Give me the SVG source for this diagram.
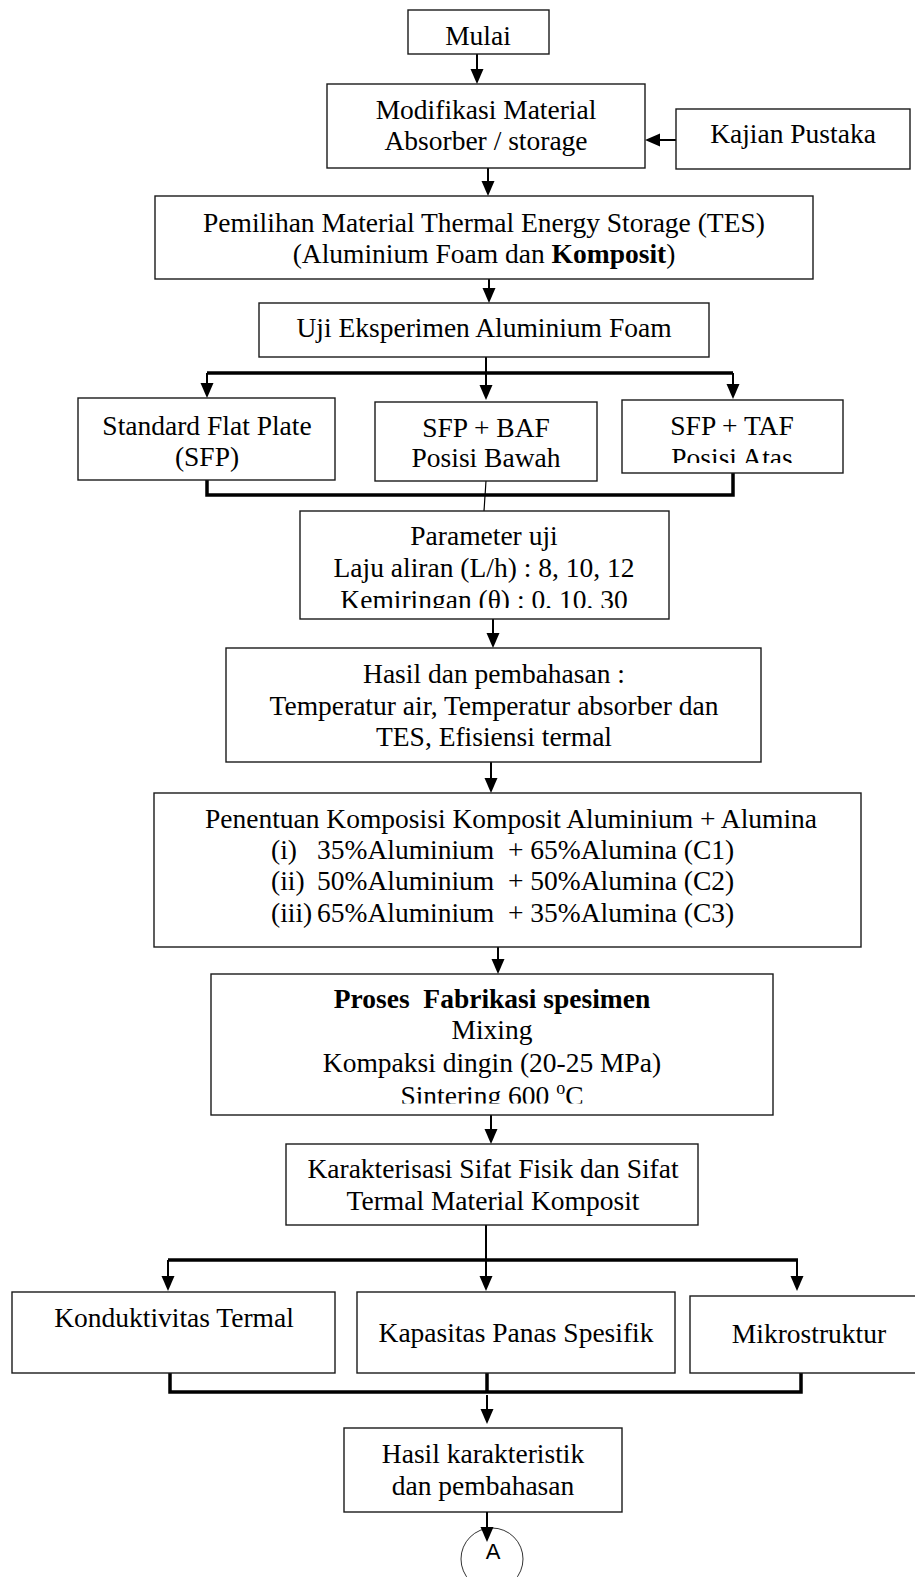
<svg xmlns="http://www.w3.org/2000/svg" width="915" height="1577" viewBox="0 0 915 1577">
<style>
.box{fill:#fff;stroke:#1a1a1a;stroke-width:1.4}
.t{font-family:"Liberation Serif","Times New Roman",serif;font-size:27.5px;fill:#000;text-anchor:middle;white-space:pre}
.tl{font-family:"Liberation Serif","Times New Roman",serif;font-size:27.5px;fill:#000;text-anchor:start;white-space:pre}
.b{font-weight:bold}
.ar{fill:none;stroke:#000;stroke-width:2;marker-end:url(#ah)}
.br{fill:none;stroke:#000;stroke-width:3.5}
.thin{fill:none;stroke:#000;stroke-width:1.2}
.circ{fill:#fff;stroke:#333;stroke-width:1}
.a{font-family:"Liberation Sans",Arial,sans-serif;font-size:22px;text-anchor:middle;fill:#000}
</style>
<defs>
<marker id="ah" markerUnits="userSpaceOnUse" markerWidth="16" markerHeight="14" refX="9" refY="6.5" orient="auto">
<path d="M0,0 L15,6.5 L0,13 Z" fill="#000"/>
</marker>
<clipPath id="cTAF"><rect x="622" y="400" width="221" height="63"/></clipPath>
<clipPath id="cPar"><rect x="300" y="511" width="369" height="97"/></clipPath>
<clipPath id="cPro"><rect x="211" y="974" width="562" height="129.5"/></clipPath>
</defs>
<rect width="915" height="1577" fill="#fff"/>

<g id="connectors">
<path class="ar" d="M477,54 V78"/>
<path class="ar" d="M676,140 H651"/>
<path class="ar" d="M488,168 V190"/>
<path class="ar" d="M489,279 V297"/>
<path class="br" d="M207,373 H733"/>
<path class="ar" d="M486,357 V394"/>
<path class="ar" d="M207,373 V392"/>
<path class="ar" d="M733,373 V393"/>
<path class="br" d="M207,480 V495 H733 V473"/>
<path class="thin" d="M486,481 L484,511"/>
<path class="ar" d="M493,619 V642"/>
<path class="ar" d="M491,762 V787"/>
<path class="ar" d="M498,947 V968"/>
<path class="ar" d="M491,1115 V1138"/>
<path class="br" d="M168,1260 H798"/>
<path class="ar" d="M486,1225 V1285"/>
<path class="ar" d="M168,1260 V1285"/>
<path class="ar" d="M797,1260 V1285"/>
<path class="br" d="M170,1373 V1392 H801 V1373 M487,1373 V1392"/>
<path class="ar" d="M487,1395 V1418"/>
</g>

<g id="mulai"><rect class="box" x="408" y="10" width="141" height="44"/><text class="t" x="478" y="45">Mulai</text></g>
<g id="modifikasi"><rect class="box" x="327" y="84" width="318" height="84"/><text class="t" x="486" y="119">Modifikasi Material</text><text class="t" x="486" y="150">Absorber / storage</text></g>
<g id="kajian"><rect class="box" x="676" y="109" width="234" height="60"/><text class="t" x="793" y="143">Kajian Pustaka</text></g>
<g id="pemilihan"><rect class="box" x="155" y="196" width="658" height="83"/><text class="t" x="484" y="232">Pemilihan Material Thermal Energy Storage (TES)</text><text class="t" x="484" y="263">(Aluminium Foam dan <tspan class="b">Komposit</tspan>)</text></g>
<g id="uji"><rect class="box" x="259" y="303" width="450" height="54"/><text class="t" x="484" y="337">Uji Eksperimen Aluminium Foam</text></g>
<g id="sfp"><rect class="box" x="78" y="398" width="257" height="82"/><text class="t" x="207" y="435">Standard Flat Plate</text><text class="t" x="207" y="466">(SFP)</text></g>
<g id="baf"><rect class="box" x="375" y="402" width="222" height="79"/><text class="t" x="486" y="437">SFP + BAF</text><text class="t" x="486" y="467">Posisi Bawah</text></g>
<g id="taf"><rect class="box" x="622" y="400" width="221" height="73"/><g clip-path="url(#cTAF)"><text class="t" x="732" y="435">SFP + TAF</text><text class="t" x="732" y="467">Posisi Atas</text></g></g>
<g id="parameter"><rect class="box" x="300" y="511" width="369" height="108"/><g clip-path="url(#cPar)"><text class="t" x="484" y="545">Parameter uji</text><text class="t" x="484" y="577">Laju aliran (L/h) : 8, 10, 12</text><text class="t" x="484" y="609">Kemiringan (θ) : 0, 10, 30</text></g></g>
<g id="hasil"><rect class="box" x="226" y="648" width="535" height="114"/><text class="t" x="494" y="683">Hasil dan pembahasan :</text><text class="t" x="494" y="715">Temperatur air, Temperatur absorber dan</text><text class="t" x="494" y="746">TES, Efisiensi termal</text></g>
<g id="penentuan"><rect class="box" x="154" y="793" width="707" height="154"/><text class="t" x="511" y="828">Penentuan Komposisi Komposit Aluminium + Alumina</text>
<text class="tl" x="271" y="859">(i)</text><text class="tl" x="317" y="859">35%Aluminium  + 65%Alumina (C1)</text>
<text class="tl" x="271" y="890">(ii)</text><text class="tl" x="317" y="890">50%Aluminium  + 50%Alumina (C2)</text>
<text class="tl" x="271" y="922">(iii)</text><text class="tl" x="317" y="922">65%Aluminium  + 35%Alumina (C3)</text></g>
<g id="proses"><rect class="box" x="211" y="974" width="562" height="141"/><g clip-path="url(#cPro)"><text class="t b" x="492" y="1008">Proses  Fabrikasi spesimen</text><text class="t" x="492" y="1039">Mixing</text><text class="t" x="492" y="1072">Kompaksi dingin (20-25 MPa)</text><text class="t" x="492" y="1104.5">Sintering 600 <tspan font-size="18" dy="-11">o</tspan><tspan dy="11">C</tspan></text></g></g>
<g id="karakterisasi"><rect class="box" x="286" y="1144" width="412" height="81"/><text class="t" x="493" y="1178">Karakterisasi Sifat Fisik dan Sifat</text><text class="t" x="493" y="1210">Termal Material Komposit</text></g>
<g id="konduktivitas"><rect class="box" x="12" y="1292" width="323" height="81"/><text class="t" x="174" y="1327">Konduktivitas Termal</text></g>
<g id="kapasitas"><rect class="box" x="357" y="1292" width="318" height="81"/><text class="t" x="516" y="1342">Kapasitas Panas Spesifik</text></g>
<g id="mikrostruktur"><rect class="box" x="690" y="1296" width="240" height="77"/><text class="t" x="809" y="1343">Mikrostruktur</text></g>
<g id="hasil-karakteristik"><rect class="box" x="344" y="1428" width="278" height="84"/><text class="t" x="483" y="1463">Hasil karakteristik</text><text class="t" x="483" y="1495">dan pembahasan</text></g>
<g id="konektor-a"><circle class="circ" cx="492" cy="1559" r="31"/><text class="a" x="493" y="1559">A</text></g>
<g id="connector-a"><path class="ar" d="M487,1512 V1536"/></g>
</svg>
